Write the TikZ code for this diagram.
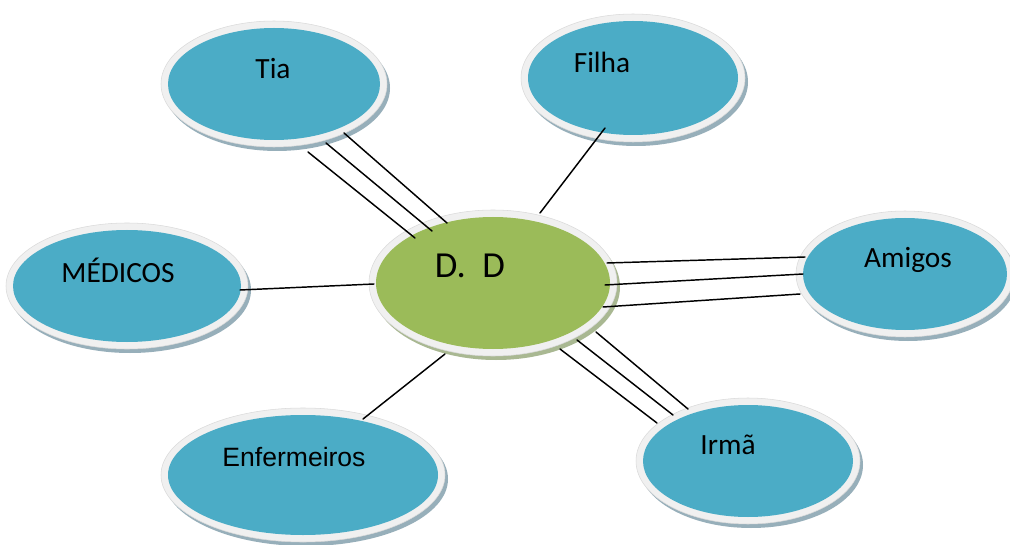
\documentclass[tikz,border=0pt]{standalone}
\usepackage{fontspec}
\setmainfont{Carlito}
\newfontfamily\arialfont{Liberation Sans}
\usetikzlibrary{shapes.geometric}

\definecolor{bubbleblue}{HTML}{4BACC6}
\definecolor{bubblegreen}{HTML}{9BBB59}
\definecolor{ringfill}{HTML}{F0F0F0}
\definecolor{ringedge}{HTML}{DADADA}
\definecolor{blueshade}{HTML}{97AFBA}
\definecolor{greenshade}{HTML}{A9B892}

\tikzset{
  bubbleshadow/.style={ellipse, inner sep=0pt, draw=none},
  bubblering/.style={ellipse, inner sep=0pt, fill=ringfill, draw=ringedge, line width=0.4pt},
  bubblecore/.style={ellipse, inner sep=0pt, draw=none},
  caption/.style={anchor=base, inner sep=0pt, font=\fontsize{22}{26}\selectfont},
  connector/.style={line width=1.1pt, black, line cap=round},
}

% #1 name, #2 x, #3 y, #4 x radius, #5 y radius, #6 fill, #7 shadow colour (pixel units)
\newcommand\bubble[7]{%
  \node[bubbleshadow, fill=#7,
        minimum width={(2*#4+14)*0.75pt}, minimum height={(2*#5+14)*0.75pt}]
        (#1-shadow) at ({#2+3},{#3+4}) {};
  \node[bubblering,
        minimum width={(2*#4+14)*0.75pt}, minimum height={(2*#5+14)*0.75pt}]
        (#1-ring) at (#2,#3) {};
  \node[bubblecore, fill=#6,
        minimum width={2*#4*0.75pt}, minimum height={2*#5*0.75pt}]
        (#1) at (#2,#3) {};
}

\begin{document}
\begin{tikzpicture}[x=0.75pt, y=-0.75pt]
\useasboundingbox[fill=white] (0,0) rectangle (1010,545);

% bubbles
\bubble{tia}{274}{84}{106}{56}{bubbleblue}{blueshade}
\bubble{filha}{633}{78}{105}{57}{bubbleblue}{blueshade}
\bubble{medicos}{127}{286}{114}{56}{bubbleblue}{blueshade}
\bubble{amigos}{905}{274}{102}{56}{bubbleblue}{blueshade}
\bubble{irma}{748}{461}{105}{56}{bubbleblue}{blueshade}
\bubble{enf}{303}{475}{135}{60}{bubbleblue}{blueshade}
\bubble{dd}{493}{283}{117}{66}{bubblegreen}{greenshade}

% captions
\node[caption] (tia-text) at (273,79) {Tia};
\node[caption] (filha-text) at (602,73) {Filha};
\node[caption] (medicos-text) at (118,283) {MÉDICOS};
\node[caption] (amigos-text) at (908,268) {Amigos};
\node[caption] (irma-text) at (728,454) {Irmã};
\node[caption, font=\arialfont\fontsize{19.9}{24}\selectfont] (enf-text) at (294,466) {Enfermeiros};
\node[caption, font=\fontsize{27.5}{32}\selectfont] (dd-text) at (470,278) {D.\ \ D};

% connector end points
\coordinate (tia-a) at (308,152);  \coordinate (dd-ta) at (415,238);
\coordinate (tia-b) at (326,143);  \coordinate (dd-tb) at (432,231);
\coordinate (tia-c) at (344,133);  \coordinate (dd-tc) at (447,223);

\coordinate (irma-a) at (657,423); \coordinate (dd-ia) at (560,349);
\coordinate (irma-b) at (673,415); \coordinate (dd-ib) at (577,340);
\coordinate (irma-c) at (688,409); \coordinate (dd-ic) at (596,332);

\coordinate (amigos-a) at (805,257); \coordinate (dd-aa) at (607,263);
\coordinate (amigos-b) at (803,274); \coordinate (dd-ab) at (605,285);
\coordinate (amigos-c) at (800,294); \coordinate (dd-ac) at (603,307);

\coordinate (filha-a) at (605,128); \coordinate (dd-fa) at (540,213);
\coordinate (medicos-a) at (240,290); \coordinate (dd-ma) at (374,284);
\coordinate (enf-a) at (363,419); \coordinate (dd-ea) at (445,354);

% connectors
\draw[connector] (tia-a) -- (dd-ta);
\draw[connector] (tia-b) -- (dd-tb);
\draw[connector] (tia-c) -- (dd-tc);
\draw[connector] (irma-a) -- (dd-ia);
\draw[connector] (irma-b) -- (dd-ib);
\draw[connector] (irma-c) -- (dd-ic);
\draw[connector] (amigos-a) -- (dd-aa);
\draw[connector] (amigos-b) -- (dd-ab);
\draw[connector] (amigos-c) -- (dd-ac);
\draw[connector] (filha-a) -- (dd-fa);
\draw[connector] (medicos-a) -- (dd-ma);
\draw[connector] (enf-a) -- (dd-ea);
\end{tikzpicture}
\end{document}
